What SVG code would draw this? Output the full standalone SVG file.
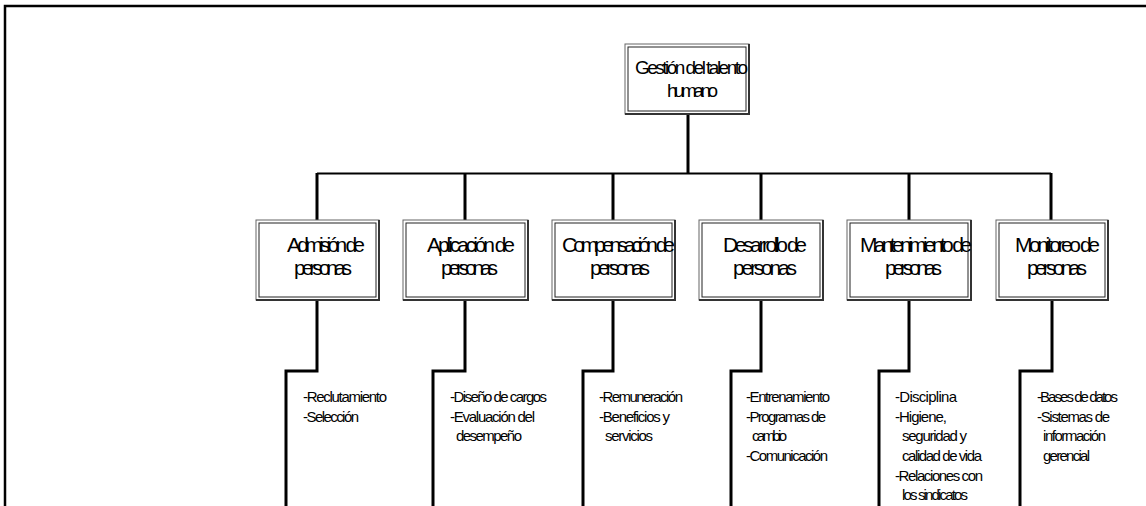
<svg xmlns="http://www.w3.org/2000/svg" width="1146" height="506" viewBox="0 0 1146 506">
<style>
.frame{fill:none;stroke:#000;stroke-width:2.5}
.bo{fill:#fff;stroke:#666;stroke-width:1}
.bi{fill:none;stroke:#222;stroke-width:1}
.bs{fill:none;stroke:#333;stroke-width:2}
.c{fill:none;stroke:#000;stroke-width:3}
.h{fill:none;stroke:#000;stroke-width:2}
.t{font-family:"Liberation Sans",Arial,sans-serif;font-size:21px;fill:#000;text-anchor:start}
.tt{font-family:"Liberation Sans",Arial,sans-serif;font-size:19px;fill:#000;text-anchor:start}
.l{font-family:"Liberation Sans",Arial,sans-serif;font-size:15px;fill:#000}
</style>
<rect width="1146" height="506" fill="#fff"/>
<path class="frame" d="M5,520 V6 H1150"/>
<g id="connectors">
<path class="c" d="M688,114 V173"/>
<path class="h" d="M317,173.5 H1051"/>
<path class="c" d="M317,173 V220 M465,173 V220 M613,173 V220 M761,173 V220 M909,173 V220 M1051,173 V220"/>
<path class="c" d="M317,300 V371 H286 V506"/>
<path class="c" d="M465,300 V371 H433 V506"/>
<path class="c" d="M613,300 V371 H583 V506"/>
<path class="c" d="M761,300 V371 H731 V506"/>
<path class="c" d="M909,300 V371 H879 V506"/>
<path class="c" d="M1052,300 V371 H1020 V506"/>
</g>
<g id="n0">
<rect class="bo" x="625" y="44" width="124" height="70"/>
<rect class="bi" x="628" y="47" width="118" height="64"/>
<path class="bs" d="M749,44 V114 H625"/>
<text class="tt" x="635" y="74" textLength="113" lengthAdjust="spacing">Gestión del talento</text>
<text class="tt" x="667" y="97" textLength="51" lengthAdjust="spacing">humano</text>
</g>
<g id="n1">
<rect class="bo" x="256" y="220" width="123" height="80"/>
<rect class="bi" x="259" y="223" width="117" height="74"/>
<path class="bs" d="M379,220 V300 H256"/>
<text class="t" x="287" y="252" textLength="78" lengthAdjust="spacing">Admisión de</text>
<text class="t" x="294" y="275" textLength="58" lengthAdjust="spacing">personas</text>
</g>
<g id="n2">
<rect class="bo" x="403" y="220" width="125" height="80"/>
<rect class="bi" x="406" y="223" width="119" height="74"/>
<path class="bs" d="M528,220 V300 H403"/>
<text class="t" x="427" y="252" textLength="88" lengthAdjust="spacing">Aplicación de</text>
<text class="t" x="441" y="275" textLength="57" lengthAdjust="spacing">personas</text>
</g>
<g id="n3">
<rect class="bo" x="552" y="220" width="123" height="80"/>
<rect class="bi" x="555" y="223" width="117" height="74"/>
<path class="bs" d="M675,220 V300 H552"/>
<text class="t" x="562" y="252" textLength="113" lengthAdjust="spacing">Compensación de</text>
<text class="t" x="590" y="275" textLength="60" lengthAdjust="spacing">personas</text>
</g>
<g id="n4">
<rect class="bo" x="699" y="220" width="124" height="80"/>
<rect class="bi" x="702" y="223" width="118" height="74"/>
<path class="bs" d="M823,220 V300 H699"/>
<text class="t" x="723" y="252" textLength="84" lengthAdjust="spacing">Desarrollo de</text>
<text class="t" x="733" y="275" textLength="64" lengthAdjust="spacing">personas</text>
</g>
<g id="n5">
<rect class="bo" x="847" y="220" width="124" height="80"/>
<rect class="bi" x="850" y="223" width="118" height="74"/>
<path class="bs" d="M971,220 V300 H847"/>
<text class="t" x="860" y="252" textLength="112" lengthAdjust="spacing">Mantenimiento de</text>
<text class="t" x="885" y="275" textLength="57" lengthAdjust="spacing">personas</text>
</g>
<g id="n6">
<rect class="bo" x="996" y="220" width="112" height="80"/>
<rect class="bi" x="999" y="223" width="106" height="74"/>
<path class="bs" d="M1108,220 V300 H996"/>
<text class="t" x="1015" y="252" textLength="85" lengthAdjust="spacing">Monitoreo de</text>
<text class="t" x="1027" y="275" textLength="60" lengthAdjust="spacing">personas</text>
</g>
<g id="list1">
<text class="l" x="303" y="402" textLength="84" lengthAdjust="spacing">-Reclutamiento</text>
<text class="l" x="303" y="422" textLength="56" lengthAdjust="spacing">-Selección</text>
</g>
<g id="list2">
<text class="l" x="450" y="402" textLength="97" lengthAdjust="spacing">-Diseño de cargos</text>
<text class="l" x="450" y="422" textLength="85" lengthAdjust="spacing">-Evaluación del</text>
<text class="l" x="456" y="441" textLength="66" lengthAdjust="spacing">desempeño</text>
</g>
<g id="list3">
<text class="l" x="599" y="402" textLength="84" lengthAdjust="spacing">-Remuneración</text>
<text class="l" x="599" y="422" textLength="71" lengthAdjust="spacing">-Beneficios y</text>
<text class="l" x="605" y="441" textLength="48" lengthAdjust="spacing">servicios</text>
</g>
<g id="list4">
<text class="l" x="746" y="402" textLength="84" lengthAdjust="spacing">-Entrenamiento</text>
<text class="l" x="746" y="422" textLength="80" lengthAdjust="spacing">-Programas de</text>
<text class="l" x="752" y="441" textLength="35" lengthAdjust="spacing">cambio</text>
<text class="l" x="746" y="461" textLength="82" lengthAdjust="spacing">-Comunicación</text>
</g>
<g id="list5">
<text class="l" x="895" y="402" textLength="62" lengthAdjust="spacing">-Disciplina</text>
<text class="l" x="895" y="422" textLength="52" lengthAdjust="spacing">-Higiene,</text>
<text class="l" x="902" y="441" textLength="65" lengthAdjust="spacing">seguridad y</text>
<text class="l" x="902" y="461" textLength="80" lengthAdjust="spacing">calidad de vida</text>
<text class="l" x="895" y="481" textLength="88" lengthAdjust="spacing">-Relaciones con</text>
<text class="l" x="902" y="500" textLength="66" lengthAdjust="spacing">los sindicatos</text>
</g>
<g id="list6">
<text class="l" x="1037" y="402" textLength="81" lengthAdjust="spacing">-Bases de datos</text>
<text class="l" x="1037" y="422" textLength="73" lengthAdjust="spacing">-Sistemas de</text>
<text class="l" x="1043" y="441" textLength="63" lengthAdjust="spacing">información</text>
<text class="l" x="1043" y="461" textLength="47" lengthAdjust="spacing">gerencial</text>
</g>
</svg>
